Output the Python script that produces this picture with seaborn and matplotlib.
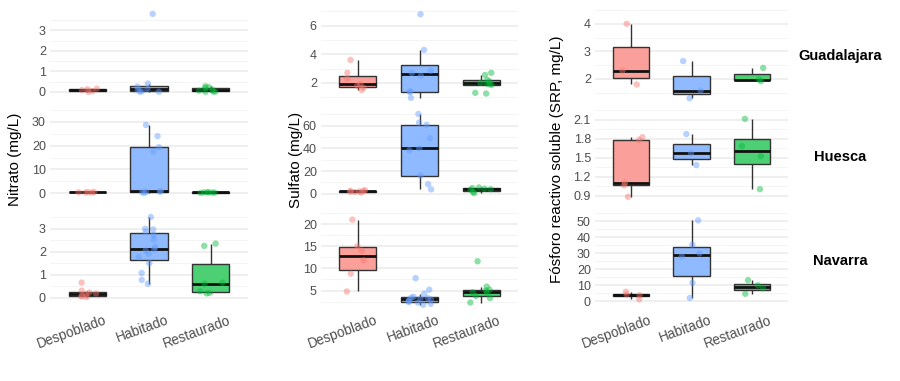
import numpy as np
import pandas as pd
import matplotlib
matplotlib.use("Agg")
import matplotlib.pyplot as plt
import matplotlib.transforms as mtransforms
from matplotlib.colors import to_rgb
import seaborn as sns

# ---------------- data ----------------
categories = ["Despoblado", "Habitado", "Restaurado"]
regions = ["Guadalajara", "Huesca", "Navarra"]
variables = ["Nitrato", "Sulfato", "Fosforo"]
y_titles = ["Nitrato (mg/L)", "Sulfato (mg/L)", "Fósforo reactivo soluble (SRP, mg/L)"]
colors = ["#F8766D", "#619CFF", "#00BA38"]

# Nitrato
nit_gua_desp = [0.0, 0.03, 0.08, 0.12, 0.15]
nit_gua_hab = [0.0, 0.0, 0.02, 0.1, 0.15, 0.25, 0.4, 3.8]
nit_gua_rest = [0.0, 0.0, 0.02, 0.05, 0.1, 0.18, 0.22, 0.27]
nit_hue_desp = [0.2, 0.3, 0.35, 0.4, 0.5]
nit_hue_hab = [0.1, 0.3, 0.5, 0.6, 0.8, 17.5, 19.3, 24.0, 28.7]
nit_hue_rest = [0.1, 0.2, 0.25, 0.3, 0.35, 0.4]
nit_nav_desp = [0.02, 0.04, 0.08, 0.15, 0.18, 0.22, 0.3, 0.65]
nit_nav_hab = [0.6, 0.77, 1.07, 1.5, 1.76, 1.91, 2.05, 2.1, 2.2, 2.53, 2.73, 2.87, 2.97, 3.0, 3.51]
nit_nav_rest = [0.18, 0.2, 0.27, 0.6, 0.65, 2.25, 2.35]

# Sulfato
sul_gua_desp = [1.5, 1.65, 1.8, 1.9, 2.3, 2.7, 3.6]
sul_gua_hab = [0.95, 1.35, 1.4, 2.5, 2.7, 2.85, 4.3, 6.8]
sul_gua_rest = [1.25, 1.3, 1.85, 1.9, 1.95, 2.0, 2.1, 2.2, 2.55, 2.7]
sul_hue_desp = [1.2, 1.5, 1.8, 2.0, 2.2, 2.5, 3.0]
sul_hue_hab = [3.8, 8.4, 16.0, 38.3, 40.0, 49.0, 60.9, 62.8, 70.4]
sul_hue_rest = [0.5, 1.5, 3.5, 4.0, 4.5, 5.0, 5.5]
sul_nav_desp = [4.8, 8.8, 11.8, 14.0, 15.0, 21.0]
sul_nav_hab = [1.8, 2.0, 2.3, 2.4, 2.6, 2.9, 3.0, 3.2, 3.3, 3.4, 3.6, 4.3, 5.2, 7.8]
sul_nav_rest = [2.3, 3.3, 3.8, 4.4, 4.6, 5.0, 5.2, 5.9, 11.6]

# Fosforo (SRP)
srp_gua_desp = [1.8, 2.3, 4.0]
srp_gua_hab = [1.3, 1.58, 2.65]
srp_gua_rest = [1.92, 1.98, 2.4]
srp_hue_desp = [0.88, 1.06, 1.1, 1.78, 1.82]
srp_hue_hab = [1.38, 1.57, 1.87]
srp_hue_rest = [1.0, 1.52, 1.68, 2.11]
srp_nav_desp = [1.0, 3.6, 4.1, 5.8]
srp_nav_hab = [1.9, 11.4, 27.9, 29.8, 35.2, 50.4]
srp_nav_rest = [4.5, 8.0, 9.8, 13.0]

# y tick values per panel (rows: Guadalajara, Huesca, Navarra)
ticks_nitrato = [[0, 1, 2, 3], [0, 10, 20, 30], [0, 1, 2, 3]]
ticks_sulfato = [[2, 4, 6], [0, 20, 40, 60], [5, 10, 15, 20]]
ticks_fosforo = [[2, 3, 4], [0.9, 1.2, 1.5, 1.8, 2.1], [0, 10, 20, 30, 40, 50]]

series = {
    ("Nitrato", "Guadalajara"): [nit_gua_desp, nit_gua_hab, nit_gua_rest],
    ("Nitrato", "Huesca"): [nit_hue_desp, nit_hue_hab, nit_hue_rest],
    ("Nitrato", "Navarra"): [nit_nav_desp, nit_nav_hab, nit_nav_rest],
    ("Sulfato", "Guadalajara"): [sul_gua_desp, sul_gua_hab, sul_gua_rest],
    ("Sulfato", "Huesca"): [sul_hue_desp, sul_hue_hab, sul_hue_rest],
    ("Sulfato", "Navarra"): [sul_nav_desp, sul_nav_hab, sul_nav_rest],
    ("Fosforo", "Guadalajara"): [srp_gua_desp, srp_gua_hab, srp_gua_rest],
    ("Fosforo", "Huesca"): [srp_hue_desp, srp_hue_hab, srp_hue_rest],
    ("Fosforo", "Navarra"): [srp_nav_desp, srp_nav_hab, srp_nav_rest],
}
ticks = {"Nitrato": ticks_nitrato, "Sulfato": ticks_sulfato, "Fosforo": ticks_fosforo}

rows = []
for (var, reg), groups in series.items():
    for cat, vals in zip(categories, groups):
        for v in vals:
            rows.append({"var": var, "region": reg, "cat": cat, "value": v})
df = pd.DataFrame(rows)

# ---------------- style ----------------
sns.set_theme(style="white")
plt.rcParams["font.family"] = ["Liberation Sans", "DejaVu Sans"]

def blend(c, a=0.7):
    r, g, b = to_rgb(c)
    return (r * a + (1 - a), g * a + (1 - a), b * a + (1 - a))

box_fill = [blend(c) for c in colors]

W, H = 900, 381
fig = plt.figure(figsize=(W / 100, H / 100), dpi=100)
col_x = [(50, 248), (321, 518), (595, 788)]
row_y = [(10, 102), (110, 205), (213, 309)]
ylab_x = [15, 296, 557]
np.random.seed(3)

for ci, var in enumerate(variables):
    for ri, reg in enumerate(regions):
        x0, x1 = col_x[ci]
        y0, y1 = row_y[ri]
        ax = fig.add_axes([x0 / W, 1 - y1 / H, (x1 - x0) / W, (y1 - y0) / H])
        sub = df[(df["var"] == var) & (df["region"] == reg)]
        sns.boxplot(data=sub, x="cat", y="value", hue="cat", order=categories,
                    hue_order=categories, palette=box_fill, width=0.6, saturation=1,
                    showfliers=False, linecolor="#333333", linewidth=1.0,
                    medianprops=dict(color="#111111", linewidth=2.0),
                    showcaps=False, legend=False, ax=ax)
        sns.stripplot(data=sub, x="cat", y="value", hue="cat", order=categories,
                      hue_order=categories, palette=colors, jitter=0.2, size=4.6,
                      alpha=0.45, linewidth=0, legend=False, ax=ax, zorder=5)
        lo, hi = sub["value"].min(), sub["value"].max()
        pad = 0.05 * (hi - lo)
        ax.set_ylim(lo - pad, hi + pad)
        ax.set_xlim(-0.6, 2.6)
        tk = ticks[var][ri]
        step = tk[1] - tk[0]
        minor = [tk[0] - step / 2] + [t + step / 2 for t in tk]
        ax.set_yticks(tk)
        ax.set_yticklabels([f"{t:g}" for t in tk])
        ax.set_yticks(minor, minor=True)
        ax.yaxis.grid(True, which="major", color="#EBEBEB", linewidth=1.1)
        ax.yaxis.grid(True, which="minor", color="#F2F2F2", linewidth=0.6)
        ax.xaxis.grid(False)
        ax.set_axisbelow(True)
        for s in ax.spines.values():
            s.set_visible(False)
        ax.set_xlabel("")
        ax.set_ylabel("")
        ax.tick_params(axis="both", which="both", length=0, labelsize=9,
                       labelcolor="#4D4D4D", pad=3)
        if ri < 2:
            ax.set_xticklabels([])
        else:
            offset = mtransforms.ScaledTranslation(17 / 100, 0, fig.dpi_scale_trans)
            for lab in ax.get_xticklabels():
                lab.set_rotation(20)
                lab.set_ha("right")
                lab.set_va("top")
                lab.set_rotation_mode("anchor")
                lab.set_fontsize(9.8)
                lab.set_transform(lab.get_transform() + offset)
        if ci == 2:
            fig.text(840 / W, 1 - ((y0 + y1) / 2) / H, reg, ha="center", va="center",
                     fontsize=10.5, fontweight="bold", color="black")
    fig.text(ylab_x[ci] / W, 1 - ((row_y[0][0] + row_y[2][1]) / 2) / H, y_titles[ci],
             rotation=90, ha="center", va="center", fontsize=11, color="black")

fig.savefig("out.png", dpi=100, facecolor="white")
